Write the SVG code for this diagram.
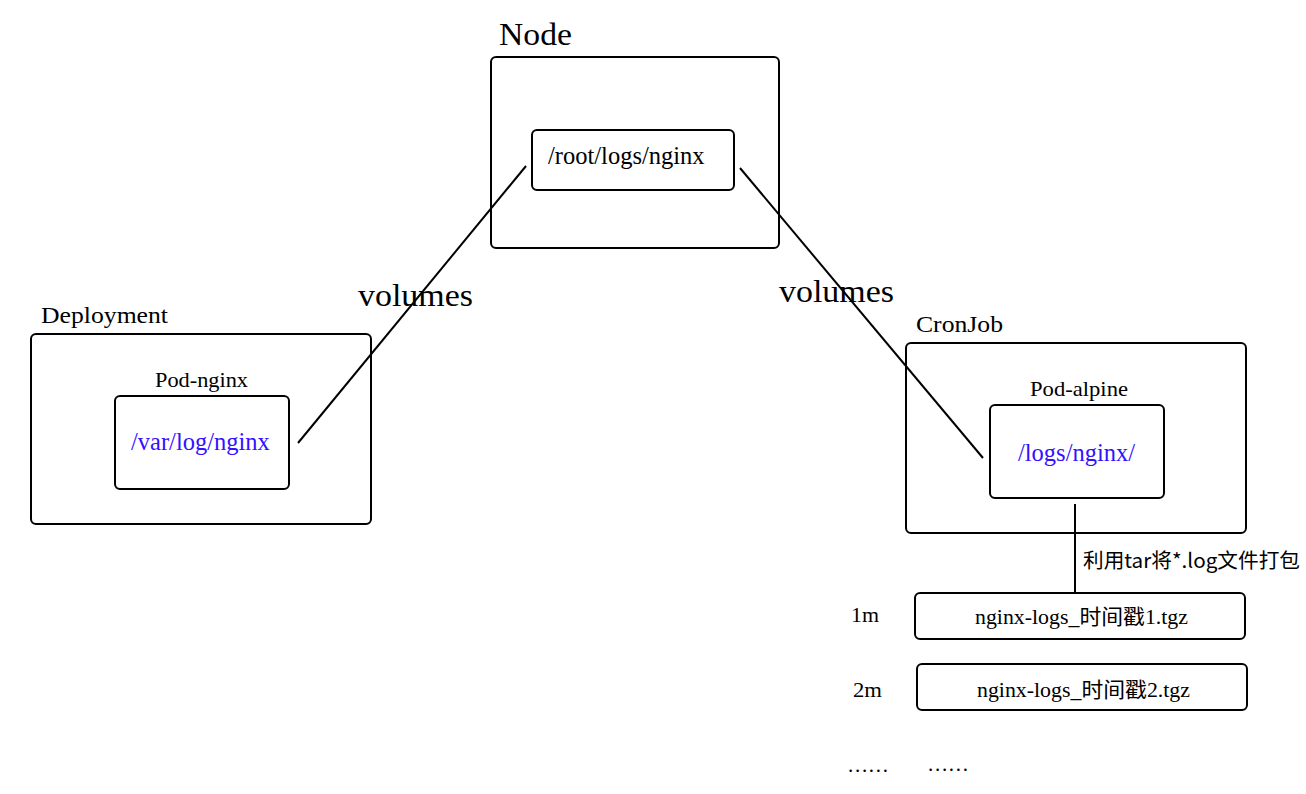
<svg xmlns="http://www.w3.org/2000/svg" width="1306" height="794" viewBox="0 0 1306 794">
<style>
.box{fill:#fff;stroke:#000;stroke-width:2}
.s{font-family:"Liberation Serif",serif;fill:#000}
.t{font-family:"Liberation Serif","Noto Sans CJK SC",serif;fill:#000}
.blue{fill:#3311ff}
.cjk{font-family:"Noto Sans CJK SC","Noto Sans",sans-serif;fill:#000}
.ln{stroke:#000;stroke-width:2;fill:none}
</style>
<rect width="1306" height="794" fill="#fff"/>
<g id="node">
<text class="s" x="499" y="45" font-size="32" textLength="73" lengthAdjust="spacingAndGlyphs">Node</text>
<rect class="box" x="491" y="57" width="288" height="191" rx="5"/>
</g>
<g id="node-path">
<rect class="box" x="532" y="130" width="202" height="60" rx="5"/>
<text font-family="Liberation Serif, serif" fill="#000" x="548" y="164" font-size="24.5">/root/logs/nginx</text>
</g>
<g id="deployment">
<text class="s" x="41" y="323" font-size="23.5" textLength="127" lengthAdjust="spacingAndGlyphs">Deployment</text>
<rect class="box" x="31" y="334" width="340" height="190" rx="5"/>
</g>
<g id="pod-nginx">
<text class="s" x="155" y="387" font-size="21.5" textLength="93" lengthAdjust="spacingAndGlyphs">Pod-nginx</text>
<rect class="box" x="115" y="396" width="174" height="93" rx="5"/>
<text font-family="Liberation Serif, serif" fill="#3311ff" x="131" y="450" font-size="24.5">/var/log/nginx</text>
</g>
<g id="cronjob">
<text class="s" x="916" y="332" font-size="23.5" textLength="87" lengthAdjust="spacingAndGlyphs">CronJob</text>
<rect class="box" x="906" y="343" width="340" height="190" rx="5"/>
</g>
<g id="pod-alpine">
<text class="s" x="1030" y="396" font-size="21.5" textLength="98" lengthAdjust="spacingAndGlyphs">Pod-alpine</text>
<rect class="box" x="990" y="405" width="174" height="93" rx="5"/>
<text font-family="Liberation Serif, serif" fill="#3311ff" x="1018" y="461" font-size="24.5">/logs/nginx/</text>
</g>
<g id="tgz1">
<text class="s" x="851" y="622" font-size="21" textLength="28" lengthAdjust="spacingAndGlyphs">1m</text>
<rect class="box" x="915" y="593" width="330" height="46" rx="5"/>
<text class="t" x="975" y="624" font-size="21" textLength="213" lengthAdjust="spacingAndGlyphs">nginx-logs_时间戳1.tgz</text>
</g>
<g id="tgz2">
<text class="s" x="853" y="697" font-size="21" textLength="29" lengthAdjust="spacingAndGlyphs">2m</text>
<rect class="box" x="917" y="664" width="330" height="46" rx="5"/>
<text class="t" x="977" y="697" font-size="21" textLength="213" lengthAdjust="spacingAndGlyphs">nginx-logs_时间戳2.tgz</text>
</g>
<g id="more">
<text class="s" x="848" y="772" font-size="21" textLength="40" lengthAdjust="spacing">......</text>
<text class="s" x="928" y="771" font-size="21" textLength="40" lengthAdjust="spacing">......</text>
</g>
<g id="connectors">
<line class="ln" x1="526" y1="166" x2="298" y2="443"/>
<line class="ln" x1="740" y1="168" x2="983" y2="458"/>
<line class="ln" x1="1075" y1="504" x2="1075" y2="593"/>
<text class="s" x="358" y="306" font-size="31" textLength="115" lengthAdjust="spacingAndGlyphs">volumes</text>
<text class="s" x="779" y="302" font-size="31" textLength="115" lengthAdjust="spacingAndGlyphs">volumes</text>
<text class="cjk" x="1083" y="568" font-size="20" textLength="217" lengthAdjust="spacingAndGlyphs">利用tar将*.log文件打包</text>
</g>
</svg>
